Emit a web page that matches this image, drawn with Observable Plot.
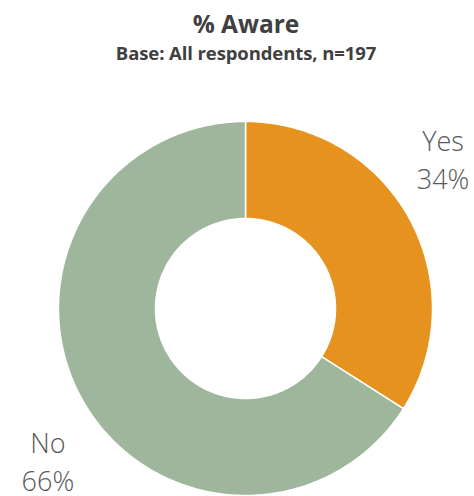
<!DOCTYPE html>
<html><head><meta charset="utf-8">
<script src="https://cdn.jsdelivr.net/npm/d3@7"></script>
<script src="https://cdn.jsdelivr.net/npm/@observablehq/plot@0.6"></script>
<style>
body{margin:0;background:#fff;font-family:"Open Sans",sans-serif;}
#head{height:75px;text-align:center;color:#404040;overflow:hidden;padding-left:18px;box-sizing:border-box;}
#t{font-weight:700;font-size:24.5px;padding-top:8px;line-height:32px;}
#s{font-weight:700;font-size:18.5px;line-height:24px;margin-top:1px;letter-spacing:-0.1px;}
#chart svg{display:block;}
</style></head><body>
<div id="head"><div id="t"></div><div id="s"></div></div>
<div id="chart"></div>
<script>
const title = "% Aware";
const subtitle = "Base: All respondents, n=197";
const categories = ["Yes", "No"];
const values = [34, 66];
const colors = ["#E6921E", "#9EB69C"];

document.getElementById("t").textContent = title;
document.getElementById("s").textContent = subtitle;

const data = categories.map((c, i) => ({category: c, value: values[i]}));
const arcs = d3.pie().sort(null).value(d => d.value)(data);
const innerRatio = 90 / 187;

// annular sector outlines built from the pie angles
const poly = arcs.flatMap(a => {
  const pts = [];
  const n = Math.max(4, Math.ceil((a.endAngle - a.startAngle) / (2 * Math.PI) * 360));
  for (let i = 0; i <= n; i++) {
    const t = a.startAngle + (a.endAngle - a.startAngle) * i / n;
    pts.push({k: a.data.category, x: Math.sin(t), y: Math.cos(t)});
  }
  for (let i = n; i >= 0; i--) {
    const t = a.startAngle + (a.endAngle - a.startAngle) * i / n;
    pts.push({k: a.data.category, x: innerRatio * Math.sin(t), y: innerRatio * Math.cos(t)});
  }
  pts.push({...pts[0]});
  return pts;
});

const mid = a => (a.startAngle + a.endAngle) / 2 - 0.15;
const labelR = 1.33;

const chart = Plot.plot({
  width: 474,
  height: 421,
  margin: 0,
  x: {domain: [-1, 1], range: [58, 432], axis: null},
  y: {domain: [-1, 1], range: [420, 46], axis: null},
  color: {domain: categories, range: colors},
  marks: [
    Plot.line(poly, {x: "x", y: "y", z: "k", fill: "k", stroke: "white", strokeWidth: 1.5, curve: "linear"}),
    Plot.text(arcs, {
      x: a => labelR * Math.sin(mid(a)),
      y: a => labelR * Math.cos(mid(a)),
      text: a => `${a.data.category}\n${a.data.value}%`,
      fontSize: 27,
      fontWeight: 300,
      fontFamily: "Open Sans",
      fill: "#595959",
      lineAnchor: "middle",
      lineHeight: 1.43
    })
  ]
});
document.getElementById("chart").appendChild(chart);
</script>
</body></html>
